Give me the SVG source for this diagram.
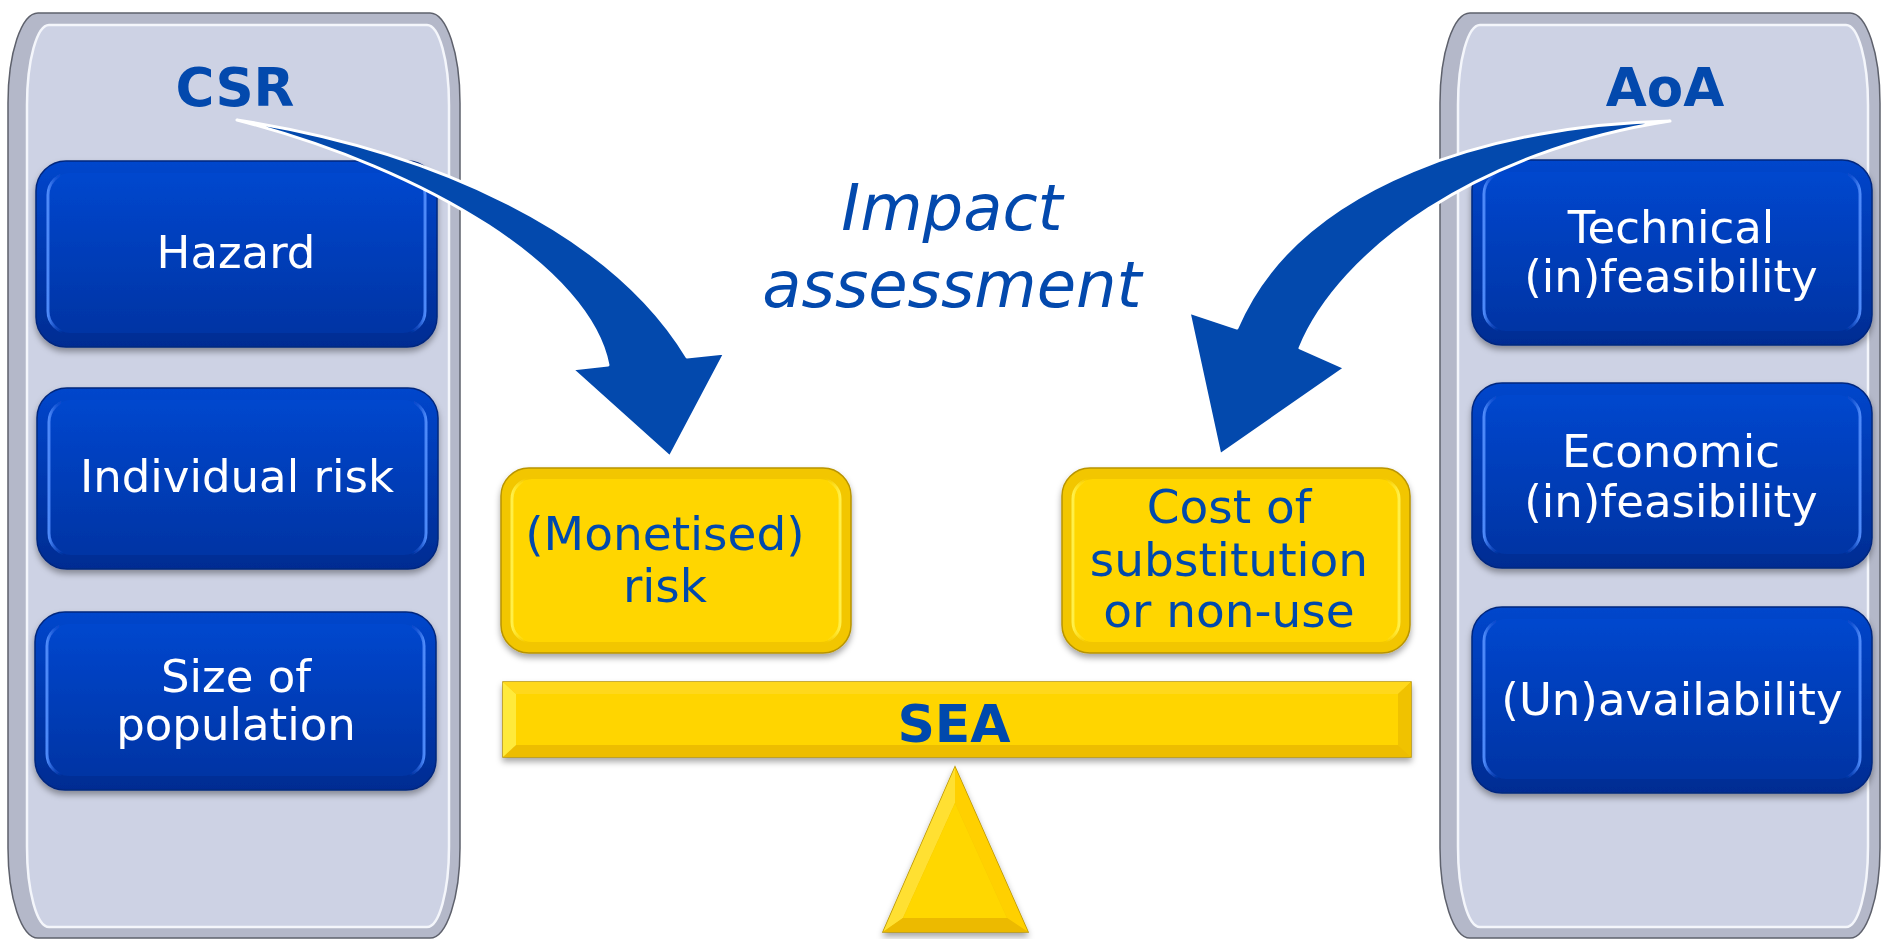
<svg xmlns="http://www.w3.org/2000/svg" width="1881" height="939" viewBox="0 0 1881 939">
<defs>
<style>
.wt{font-family:"DejaVu Sans","Verdana",sans-serif;font-size:45px;fill:#ffffff;text-anchor:middle}
.bt{font-family:"DejaVu Sans","Verdana",sans-serif;font-size:47px;fill:#0349AD;text-anchor:middle}
.hd{font-family:"DejaVu Sans","Verdana",sans-serif;font-size:53px;font-weight:bold;fill:#0349AD;text-anchor:middle}
.it{font-family:"DejaVu Sans","Verdana",sans-serif;font-size:64px;font-style:italic;fill:#0349AD;text-anchor:middle}
.panelOuter{fill:#B4B8C9;stroke:#5E616C;stroke-width:1.5}
.panelInner{fill:#CDD2E4;stroke:#F4F6FB;stroke-width:2.5}
.bOuter{fill:url(#blueGrad);stroke:#01287E;stroke-width:1.5}
.bInner{fill:url(#blueGrad2);stroke:url(#blueEdge);stroke-width:3}
.yOuter{fill:#F2C600;stroke:#B89400;stroke-width:1.5}
.yInner{fill:#FFD600;stroke:url(#yEdge);stroke-width:3}
.arrow{fill:#0349AD;stroke:#FFFFFF;stroke-width:3;stroke-linejoin:round}
</style>
<linearGradient id="blueGrad" x1="0" y1="0" x2="0" y2="1">
<stop offset="0" stop-color="#0346CC"/>
<stop offset="1" stop-color="#012C92"/>
</linearGradient>
<linearGradient id="blueGrad2" x1="0" y1="0" x2="0" y2="1">
<stop offset="0" stop-color="#0447CE"/>
<stop offset="1" stop-color="#0334A4"/>
</linearGradient>
<linearGradient id="blueEdge" x1="0" y1="0" x2="1" y2="0">
<stop offset="0" stop-color="#4F8BFA"/>
<stop offset="0.04" stop-color="#0346CC" stop-opacity="0"/>
<stop offset="0.96" stop-color="#0346CC" stop-opacity="0"/>
<stop offset="1" stop-color="#4F8BFA"/>
</linearGradient>
<linearGradient id="yEdge" x1="0" y1="0" x2="1" y2="0">
<stop offset="0" stop-color="#FFF04A"/>
<stop offset="0.05" stop-color="#FFD600" stop-opacity="0"/>
<stop offset="0.95" stop-color="#FFD600" stop-opacity="0"/>
<stop offset="1" stop-color="#FFF04A"/>
</linearGradient>
<filter id="sh" x="-10%" y="-10%" width="120%" height="130%">
<feDropShadow dx="0" dy="4" stdDeviation="3" flood-color="#000" flood-opacity="0.35"/>
</filter>
</defs>
<rect width="1881" height="939" fill="#FFFFFF"/>

<g id="panel-csr">
<rect class="panelOuter" x="8" y="13" width="452" height="925" rx="30" ry="90"/>
<rect class="panelInner" x="27" y="25" width="422" height="902" rx="22" ry="80"/>
<text class="hd" x="235" y="106">CSR</text>
</g>

<g id="panel-aoa">
<rect class="panelOuter" x="1440" y="13" width="440" height="925" rx="30" ry="90"/>
<rect class="panelInner" x="1458" y="25" width="410" height="902" rx="22" ry="80"/>
<text class="hd" x="1665" y="106">AoA</text>
</g>

<g id="node-hazard" filter="url(#sh)">
<rect class="bOuter" x="36" y="161" width="401" height="186" rx="30"/>
<rect class="bInner" x="48" y="173" width="377" height="160" rx="22"/>
<text class="wt" x="236" y="268">Hazard</text>
</g>
<g id="node-individual-risk" filter="url(#sh)">
<rect class="bOuter" x="37" y="388" width="401" height="181" rx="30"/>
<rect class="bInner" x="49" y="400" width="377" height="155" rx="22"/>
<text class="wt" x="237" y="492">Individual risk</text>
</g>
<g id="node-size-of-population" filter="url(#sh)">
<rect class="bOuter" x="35" y="612" width="401" height="178" rx="30"/>
<rect class="bInner" x="47" y="624" width="377" height="152" rx="22"/>
<text class="wt" x="236" y="692">Size of</text>
<text class="wt" x="236" y="740">population</text>
</g>

<g id="node-technical" filter="url(#sh)">
<rect class="bOuter" x="1472" y="160" width="400" height="185" rx="30"/>
<rect class="bInner" x="1484" y="172" width="376" height="159" rx="22"/>
<text class="wt" x="1671" y="243">Technical</text>
<text class="wt" x="1671" y="292">(in)feasibility</text>
</g>
<g id="node-economic" filter="url(#sh)">
<rect class="bOuter" x="1472" y="383" width="400" height="185" rx="30"/>
<rect class="bInner" x="1484" y="395" width="376" height="159" rx="22"/>
<text class="wt" x="1671" y="467">Economic</text>
<text class="wt" x="1671" y="517">(in)feasibility</text>
</g>
<g id="node-unavailability" filter="url(#sh)">
<rect class="bOuter" x="1472" y="607" width="400" height="186" rx="30"/>
<rect class="bInner" x="1484" y="619" width="376" height="160" rx="22"/>
<text class="wt" x="1672" y="715">(Un)availability</text>
</g>

<g id="label-impact">
<text class="it" x="952" y="230">Impact</text>
<text class="it" x="952" y="307">assessment</text>
</g>

<g id="node-monetised-risk" filter="url(#sh)">
<rect class="yOuter" x="501" y="468" width="350" height="185" rx="28"/>
<rect class="yInner" x="512" y="479" width="328" height="163" rx="20"/>
<text class="bt" x="665" y="550">(Monetised)</text>
<text class="bt" x="665" y="602">risk</text>
</g>

<g id="node-cost" filter="url(#sh)">
<rect class="yOuter" x="1062" y="468" width="348" height="185" rx="28"/>
<rect class="yInner" x="1073" y="479" width="326" height="163" rx="20"/>
<text class="bt" x="1229" y="523">Cost of</text>
<text class="bt" x="1229" y="576">substitution</text>
<text class="bt" x="1229" y="627">or non-use</text>
</g>

<g id="node-sea" filter="url(#sh)">
<rect x="503" y="682" width="908" height="75" fill="#F4C400" stroke="#B89400" stroke-width="1.5"/>
<polygon points="503,682 1411,682 1398,694 516,694" fill="#FFD81A"/>
<polygon points="503,757 1411,757 1398,745 516,745" fill="#EDBD00"/>
<polygon points="503,682 516,694 516,745 503,757" fill="#FFEA3A"/>
<polygon points="1411,682 1398,694 1398,745 1411,757" fill="#F0C200"/>
<rect x="516" y="694" width="882" height="51" fill="#FFD500"/>
<text class="hd" x="954" y="742" style="font-size:52px">SEA</text>
</g>

<g id="node-fulcrum" filter="url(#sh)">
<polygon points="955,767 1028,932 883,932" fill="#F2C200" stroke="#B89400" stroke-width="1.5"/>
<polygon points="955,767 955,803 903,918 883,932" fill="#FFE030"/>
<polygon points="955,767 1028,932 1007,918 955,803" fill="#FFD000"/>
<polygon points="883,932 903,918 1007,918 1028,932" fill="#ECBA00"/>
<polygon points="955,803 1007,918 903,918" fill="#FFD700"/>
</g>

<g id="connectors">
<path id="arrow-csr" class="arrow" d="M237,120 C430,150 610,230 687,357 L725,353 L670,457 L572,369 L608,365 C590,270 430,170 237,120 Z"/>
<path id="arrow-aoa" class="arrow" d="M1670,121 C1500,125 1300,180 1237,328 L1189,312 L1220,455 L1345,368 L1300,348 C1340,250 1480,150 1670,121 Z"/>
</g>
</svg>
